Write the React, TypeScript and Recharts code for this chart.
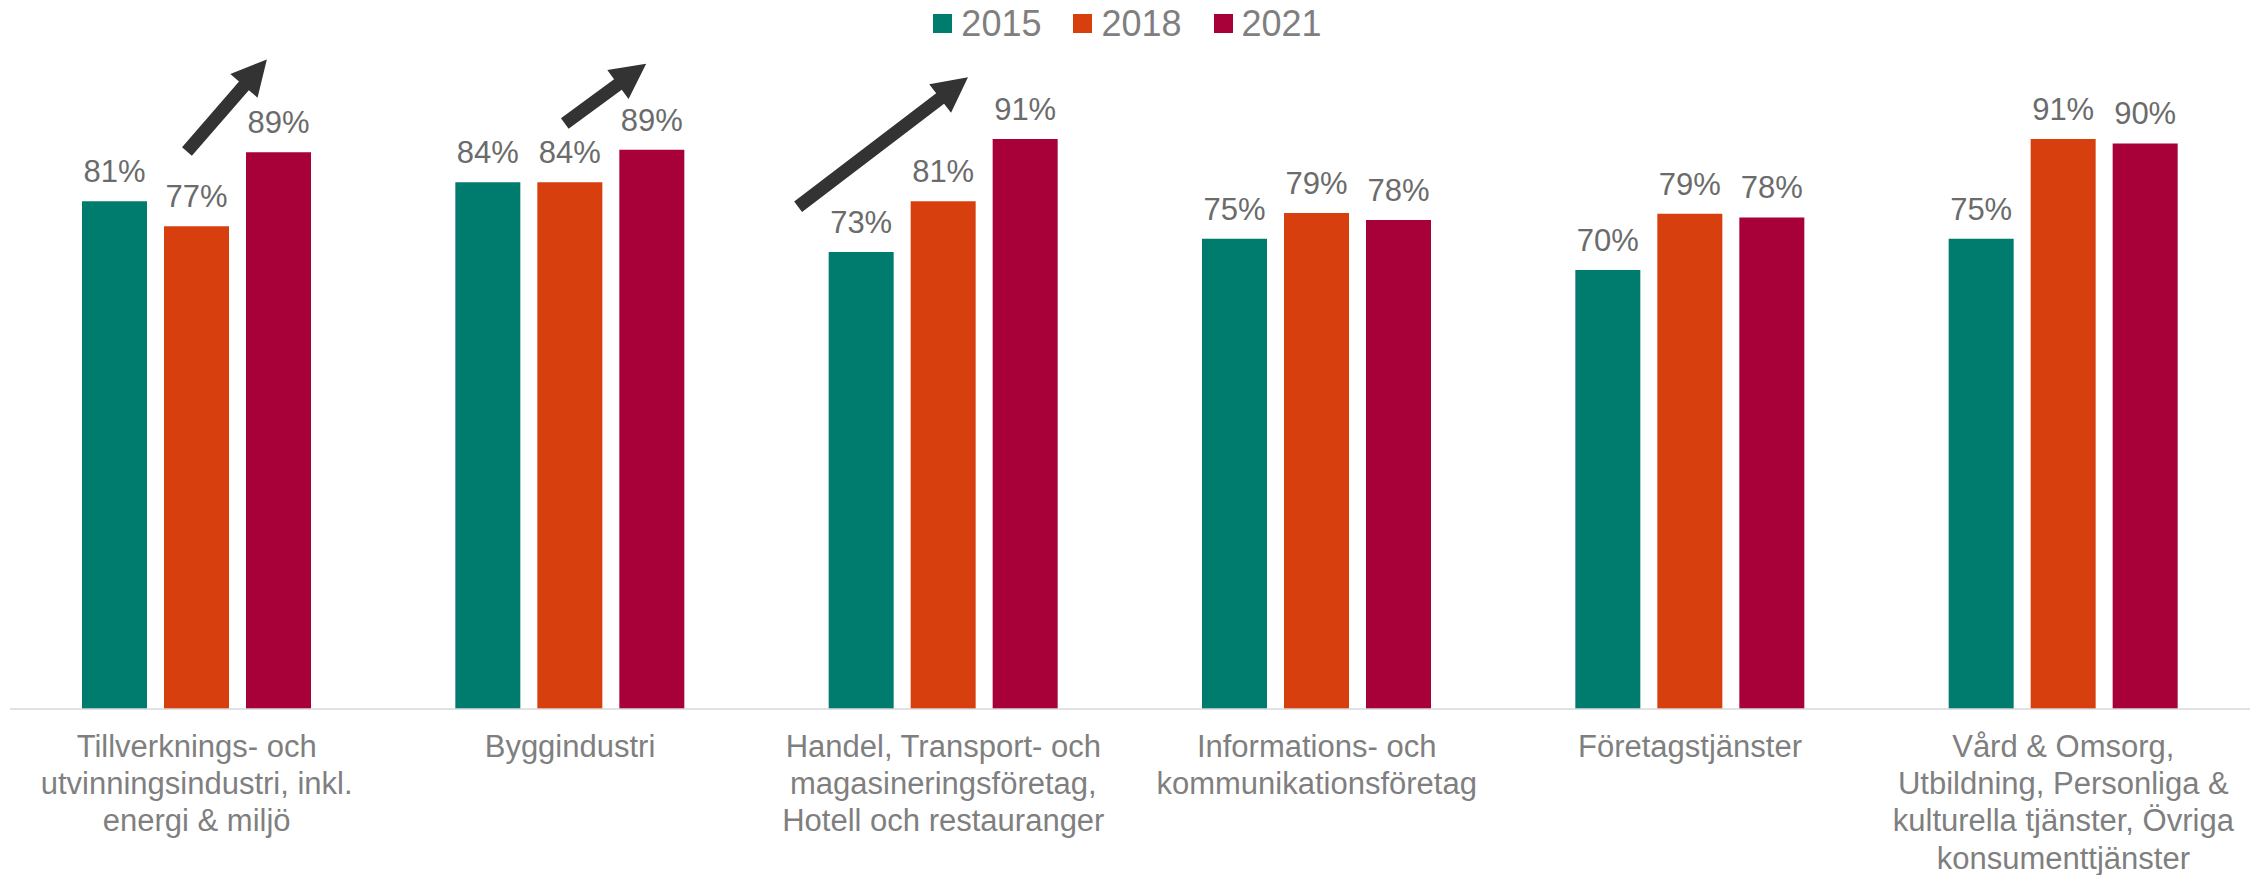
import React from 'react';
import { BarChart, Bar, XAxis, YAxis, Legend, LabelList, Customized } from 'recharts';

const categories = [
  'Tillverknings- och\nutvinningsindustri, inkl.\nenergi & miljö',
  'Byggindustri',
  'Handel, Transport- och\nmagasineringsföretag,\nHotell och restauranger',
  'Informations- och\nkommunikationsföretag',
  'Företagstjänster',
  'Vård & Omsorg,\nUtbildning, Personliga &\nkulturella tjänster, Övriga\nkonsumenttjänster',
];
const values2015 = [81, 84, 72.9, 75, 70, 75];
const values2018 = [77, 84, 81, 79.1, 79, 90.9];
const values2021 = [88.8, 89.2, 90.9, 78, 78.4, 90.2];
const seriesNames = ['2015', '2018', '2021'];
const seriesColors = ['#007C6E', '#D73F0F', '#A80038'];

// annotation arrows: category position (band units) and value
const arrows = [
  { from: [0.474, 88.9], to: [0.688, 103.6] },
  { from: [1.486, 93.4], to: [1.704, 102.9] },
  { from: [2.111, 80.1], to: [2.566, 100.75] },
];

const W = 2255;
const H = 875;
const M = { top: 82, right: 5, left: 10, bottom: 0 };
const XAXIS_H = 166;
const PLOT_L = M.left;
const PLOT_R = W - M.right;
const PLOT_T = M.top;
const PLOT_B = H - M.bottom - XAXIS_H;
const FONT = '"Liberation Sans", Arial, sans-serif';

const data = categories.map((name, i) => ({
  name,
  v2015: values2015[i],
  v2018: values2018[i],
  v2021: values2021[i],
}));

const CategoryTick = (props: any) => {
  const { x, y, payload } = props;
  const lines = String(payload.value).split('\n');
  return (
    <text x={x} y={y} textAnchor="middle" fill="#7f7f7f" fontSize={31} fontFamily={FONT}>
      {lines.map((l: string, i: number) => (
        <tspan key={i} x={x} y={y + 48 + i * 37.2}>
          {l}
        </tspan>
      ))}
    </text>
  );
};

const ValueLabel = (props: any) => {
  const { x, y, width, value } = props;
  return (
    <text
      x={x + width / 2}
      y={y - 19}
      textAnchor="middle"
      fill="#6b6b6b"
      fontSize={31}
      fontFamily={FONT}
    >
      {Math.round(value) + '%'}
    </text>
  );
};

const LegendContent = () => (
  <div
    style={{
      display: 'flex',
      justifyContent: 'center',
      alignItems: 'center',
      height: 47,
      width: W,
      fontFamily: FONT,
    }}
  >
    {seriesNames.map((n, i) => (
      <div key={n} style={{ display: 'flex', alignItems: 'center', marginLeft: i === 0 ? 0 : 32 }}>
        <div style={{ width: 19, height: 19, background: seriesColors[i], marginRight: 9 }} />
        <span style={{ fontSize: 36, color: '#7f7f7f', lineHeight: '41px' }}>{n}</span>
      </div>
    ))}
  </div>
);

const Arrows = () => {
  const band = (PLOT_R - PLOT_L) / categories.length;
  const px = (c: number) => PLOT_L + c * band;
  const py = (v: number) => PLOT_B - (v / 100) * (PLOT_B - PLOT_T);
  const shaft = 13;
  const headW = 36;
  const headL = 35;
  return (
    <g>
      {arrows.map((a, i) => {
        const tx = px(a.from[0]);
        const ty = py(a.from[1]);
        const hx = px(a.to[0]);
        const hy = py(a.to[1]);
        const len = Math.hypot(hx - tx, hy - ty);
        const ux = (hx - tx) / len;
        const uy = (hy - ty) / len;
        const nx = -uy;
        const ny = ux;
        const bx = hx - ux * headL;
        const by = hy - uy * headL;
        const pts = [
          [tx + (nx * shaft) / 2, ty + (ny * shaft) / 2],
          [bx + (nx * shaft) / 2, by + (ny * shaft) / 2],
          [bx + (nx * headW) / 2, by + (ny * headW) / 2],
          [hx, hy],
          [bx - (nx * headW) / 2, by - (ny * headW) / 2],
          [bx - (nx * shaft) / 2, by - (ny * shaft) / 2],
          [tx - (nx * shaft) / 2, ty - (ny * shaft) / 2],
        ]
          .map((p) => p.join(','))
          .join(' ');
        return <polygon key={i} points={pts} fill="#333333" />;
      })}
    </g>
  );
};

export default function App() {
  return (
    <div style={{ position: 'absolute', left: 0, top: 0, background: '#fff' }}>
      <BarChart width={W} height={H} data={data} margin={M} barSize={65} barGap={17}>
        <XAxis
          dataKey="name"
          height={XAXIS_H}
          interval={0}
          tickLine={false}
          tickSize={0}
          tickMargin={0}
          tick={<CategoryTick />}
          axisLine={{ stroke: '#d9d9d9', strokeWidth: 1.5 }}
        />
        <YAxis hide domain={[0, 100]} />
        <Legend
          layout="horizontal"
          verticalAlign="middle"
          align="center"
          wrapperStyle={{ top: 0, left: 0, width: W, height: 47 }}
          content={<LegendContent />}
        />
        {['v2015', 'v2018', 'v2021'].map((k, i) => (
          <Bar key={k} dataKey={k} name={seriesNames[i]} fill={seriesColors[i]} isAnimationActive={false}>
            <LabelList dataKey={k} content={<ValueLabel />} />
          </Bar>
        ))}
        <Customized component={<Arrows />} />
      </BarChart>
    </div>
  );
}
